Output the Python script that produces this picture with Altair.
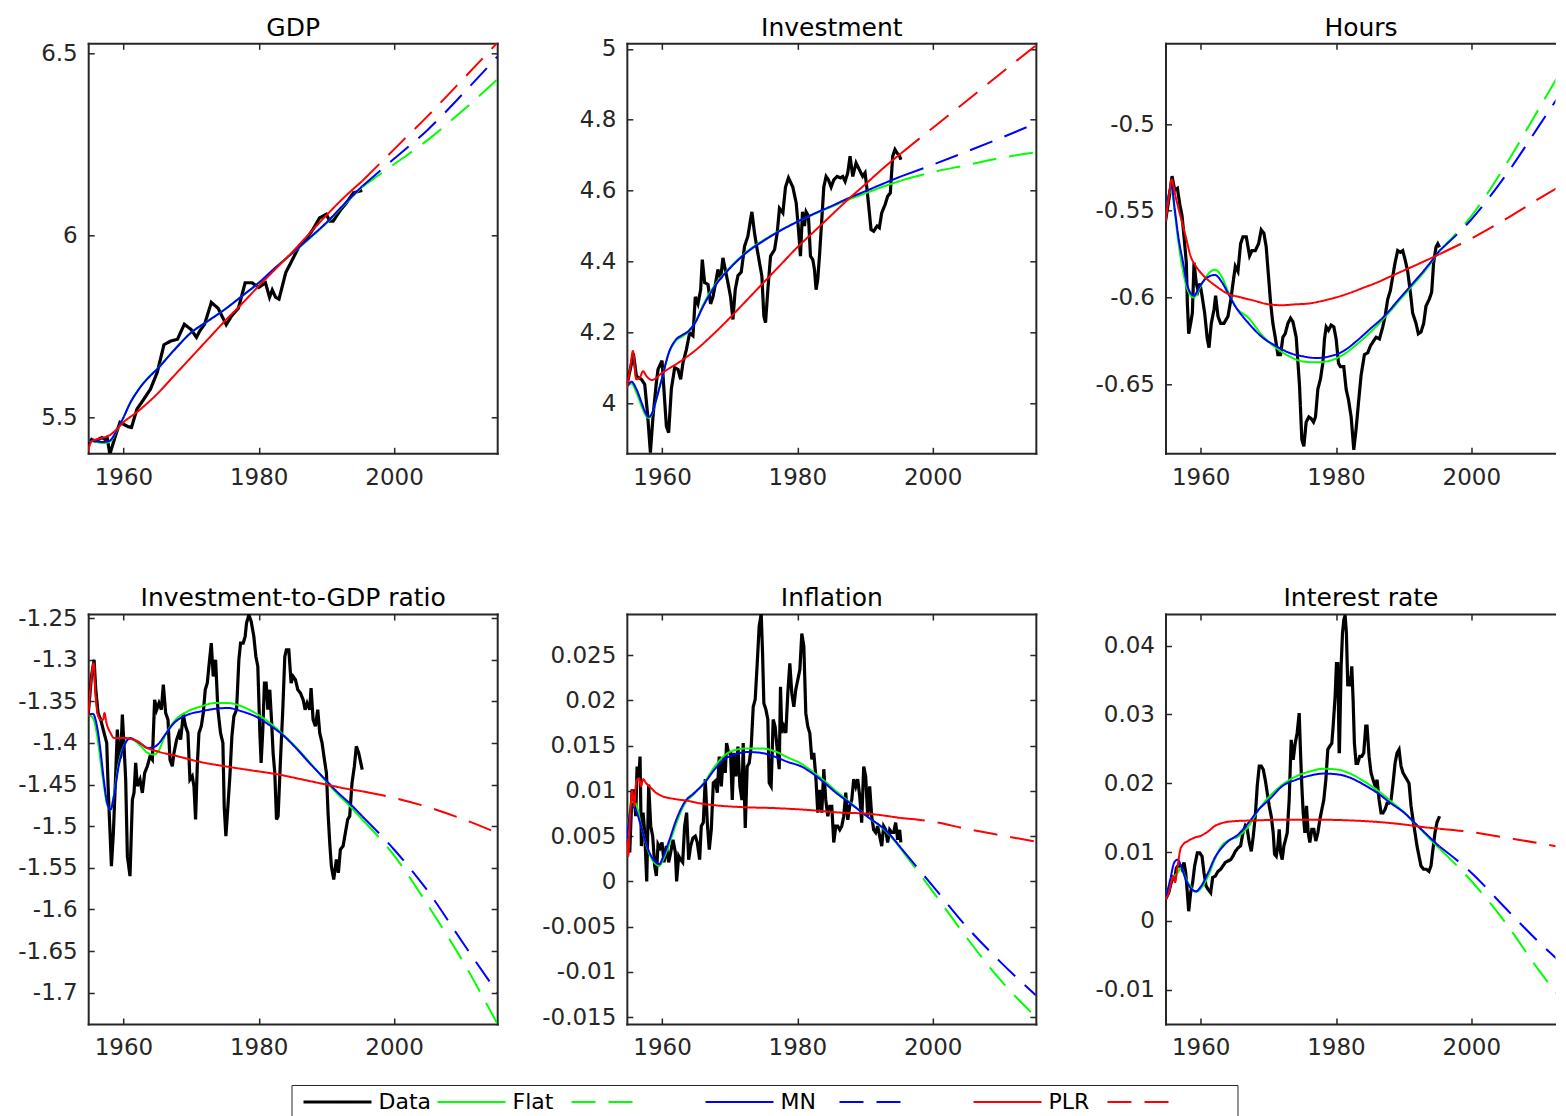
import altair as alt
import pandas as pd

FONT = "DejaVu Sans"
INK = "#262626"

SERIES = ["Data", "Flat", "Flat_f", "MN", "MN_f", "PLR", "PLR_f"]
COLORS = ["#000000", "#00ff00", "#00ff00", "#0000ff", "#0000ff", "#ff0000", "#ff0000"]
DASHES = [[1, 0], [1, 0], [24, 13], [1, 0], [24, 13], [1, 0], [24, 13]]
WIDTHS = [3.2, 2, 2, 2, 2, 2, 2]
X_DOMAIN = [1954.8, 2015.25]
X_DOMAIN_CUT = [1954.8, 2012.44]   # right column runs past the window edge
X_TICKS = [1960, 1980, 2000]
FC_YEAR = [1995.3, 2000, 2005, 2010, 2015.25]

# ---------------- GDP ----------------
gdp_year = [1954.8, 1955.3, 1955.8, 1956.3, 1956.8, 1957.3, 1957.6, 1958.0, 1958.5, 1959.0, 1959.5, 1960.0,
            1960.7, 1961.2, 1962.0, 1963.0, 1964.0, 1965.0, 1966.0, 1967.0, 1968.0, 1969.0, 1970.0, 1970.8,
            1971.3, 1972.0, 1973.0, 1974.0, 1975.2, 1976.0, 1977.0, 1978.0, 1979.0, 1980.0, 1981.0, 1981.6,
            1982.0, 1982.5, 1983.0, 1984.0, 1985.0, 1986.0, 1987.0, 1988.0, 1989.0, 1990.0, 1990.5, 1991.0,
            1992.0, 1993.0, 1994.0, 1995.3]
gdp_data = [5.427, 5.440, 5.435, 5.440, 5.445, 5.440, 5.445, 5.400, 5.430, 5.460, 5.487, 5.482,
            5.475, 5.473, 5.523, 5.550, 5.578, 5.624, 5.700, 5.710, 5.715, 5.756, 5.742, 5.720,
            5.738, 5.756, 5.816, 5.800, 5.755, 5.779, 5.800, 5.870, 5.870, 5.857, 5.870, 5.830,
            5.850, 5.830, 5.825, 5.898, 5.934, 5.971, 5.989, 6.016, 6.048, 6.058, 6.039, 6.039,
            6.067, 6.090, 6.117, 6.123]
gdp_fit_year = [1954.8, 1956, 1957, 1958, 1959, 1960, 1961, 1962, 1963, 1964, 1965, 1967.5, 1970, 1972.5,
                1975, 1977.5, 1980, 1982.5, 1985, 1987.5, 1990, 1992.5, 1995.3]
gdp_mn = [5.437, 5.435, 5.433, 5.437, 5.465, 5.500, 5.540, 5.570, 5.595, 5.615, 5.633, 5.685, 5.733, 5.765,
          5.797, 5.833, 5.870, 5.912, 5.952, 5.993, 6.035, 6.083, 6.135]
gdp_flat = [5.437, 5.433, 5.430, 5.434, 5.463, 5.499, 5.540, 5.571, 5.596, 5.616, 5.634, 5.686, 5.733, 5.765,
            5.797, 5.833, 5.869, 5.911, 5.951, 5.991, 6.033, 6.081, 6.133]
gdp_plr_year = [1954.8, 1955.3, 1956, 1957, 1958, 1959, 1960, 1962, 1965, 1967.5, 1970, 1972.5, 1975, 1977.5,
                1980, 1982.5, 1985, 1987.5, 1990, 1992.5, 1995.3]
gdp_plr = [5.409, 5.435, 5.440, 5.445, 5.452, 5.468, 5.487, 5.515, 5.565, 5.615, 5.665, 5.715, 5.765, 5.812,
           5.861, 5.908, 5.955, 6.005, 6.055, 6.102, 6.149]
gdp_mn_fc = [6.135, 6.210, 6.290, 6.385, 6.490]
gdp_flat_fc = [6.133, 6.195, 6.262, 6.340, 6.427]
gdp_plr_fc = [6.149, 6.236, 6.328, 6.425, 6.528]

# ---------------- Investment ----------------
inv_year = [1954.8, 1955.47, 1955.77, 1956.21, 1956.95, 1957.44, 1957.84, 1958.03, 1958.28, 1958.67, 1959.16,
            1959.41, 1960.0, 1960.64, 1960.98, 1961.38, 1961.87, 1962.36, 1962.75, 1963.10, 1963.59, 1964.08,
            1964.57, 1964.92, 1965.31, 1965.71, 1965.95, 1966.30, 1966.79, 1967.18, 1967.53, 1968.02, 1968.26,
            1968.66, 1969.00, 1969.35, 1969.74, 1970.13, 1970.48, 1970.82, 1971.22, 1971.71, 1972.20, 1972.69,
            1973.08, 1973.28, 1973.67, 1974.07, 1974.41, 1974.76, 1975.05, 1975.30, 1975.64, 1976.04, 1976.63,
            1977.02, 1977.36, 1977.86, 1978.25, 1978.69, 1979.33, 1979.83, 1980.17, 1980.46, 1980.76, 1981.05,
            1981.30, 1981.64, 1981.94, 1982.28, 1982.53, 1982.77, 1983.02, 1983.27, 1983.61, 1983.91, 1984.25,
            1984.60, 1984.99, 1985.38, 1985.88, 1986.37, 1986.71, 1987.06, 1987.45, 1987.79, 1988.19, 1988.68,
            1989.17, 1989.66, 1990.01, 1990.30, 1990.55, 1990.89, 1991.28, 1991.78, 1992.12, 1992.47, 1992.96,
            1993.35, 1993.74, 1994.09, 1994.43, 1994.73, 1995.07, 1995.3]
inv_data = [4.05, 4.11, 4.14, 4.076, 4.067, 4.053, 3.973, 3.926, 3.86, 3.963, 4.057,
            4.095, 4.12, 3.935, 3.916, 4.04, 4.10, 4.095, 4.067, 4.114, 4.15, 4.198,
            4.19, 4.30, 4.28, 4.32, 4.405, 4.34, 4.335, 4.28, 4.30, 4.35, 4.377,
            4.35, 4.41, 4.377, 4.34, 4.30, 4.236, 4.32, 4.36, 4.37, 4.443, 4.471,
            4.518, 4.54, 4.48, 4.433, 4.396, 4.358, 4.245, 4.227, 4.32, 4.415, 4.433,
            4.48, 4.55, 4.537, 4.61, 4.636, 4.61, 4.565, 4.49, 4.415, 4.54, 4.50,
            4.54, 4.528, 4.415, 4.405, 4.377, 4.32, 4.35, 4.415, 4.518, 4.61, 4.64,
            4.63, 4.61, 4.63, 4.64, 4.636, 4.64, 4.626, 4.65, 4.697, 4.64, 4.678,
            4.659, 4.64, 4.65, 4.603, 4.556, 4.49, 4.485, 4.50, 4.495, 4.537, 4.56,
            4.584, 4.593, 4.697, 4.716, 4.706, 4.70, 4.687]
inv_fit_year = [1954.8, 1955.5, 1956.2, 1957, 1957.5, 1958, 1958.5, 1959, 1959.5, 1960, 1961, 1962, 1963, 1964,
                1965, 1966, 1967, 1968, 1970, 1972.5, 1975, 1977.5, 1980, 1982.5, 1985, 1987.5, 1990, 1992.5, 1995.3]
inv_mn = [4.045, 4.060, 4.040, 4.000, 3.975, 3.961, 3.970, 4.000, 4.035, 4.070, 4.142, 4.178, 4.192, 4.205,
          4.230, 4.270, 4.305, 4.335, 4.380, 4.425, 4.458, 4.487, 4.512, 4.535, 4.556, 4.578, 4.598, 4.618, 4.640]
inv_flat = [4.045, 4.055, 4.030, 3.990, 3.968, 3.958, 3.968, 3.998, 4.034, 4.070, 4.140, 4.175, 4.188, 4.203,
            4.232, 4.274, 4.310, 4.338, 4.382, 4.427, 4.460, 4.488, 4.512, 4.534, 4.554, 4.574, 4.592, 4.610, 4.628]
inv_plr_year = [1954.8, 1955.3, 1955.7, 1956.2, 1956.7, 1957.2, 1957.7, 1958.5, 1960, 1962.5, 1965, 1967.5, 1970,
                1972.5, 1975, 1977.5, 1980, 1982.5, 1985, 1987.5, 1990, 1992.5, 1995.3]
inv_plr = [4.043, 4.100, 4.147, 4.067, 4.071, 4.090, 4.076, 4.065, 4.085, 4.115, 4.150, 4.193, 4.240,
           4.290, 4.340, 4.390, 4.440, 4.485, 4.530, 4.575, 4.617, 4.660, 4.705]
inv_mn_fc = [4.640, 4.673, 4.710, 4.748, 4.790]
inv_flat_fc = [4.628, 4.652, 4.672, 4.692, 4.708]
inv_plr_fc = [4.705, 4.777, 4.853, 4.930, 5.010]

# ---------------- Hours ----------------
hrs_year = [1954.8, 1955.43, 1955.77, 1956.16, 1956.56, 1956.90, 1957.25, 1957.54, 1957.88, 1958.03, 1958.23,
            1958.52, 1958.77, 1959.02, 1959.36, 1959.61, 1959.90, 1960.20, 1960.59, 1960.98, 1961.23, 1961.57,
            1961.97, 1962.21, 1962.56, 1962.95, 1963.44, 1964.03, 1964.43, 1964.77, 1965.12, 1965.51, 1965.90,
            1966.25, 1966.74, 1967.23, 1967.58, 1968.07, 1968.56, 1968.95, 1969.35, 1969.69, 1970.03, 1970.33,
            1970.67, 1971.02, 1971.41, 1971.81, 1972.15, 1972.49, 1972.89, 1973.28, 1973.63, 1974.12, 1974.61,
            1974.95, 1975.25, 1975.59, 1975.99, 1976.33, 1976.68, 1976.97, 1977.32, 1977.71, 1978.05, 1978.30,
            1978.55, 1978.89, 1979.28, 1979.68, 1980.02, 1980.37, 1980.66, 1981.15, 1981.50, 1981.84, 1982.24,
            1982.63, 1982.97, 1983.32, 1983.71, 1984.20, 1984.69, 1985.09, 1985.58, 1985.92, 1986.42, 1986.91,
            1987.25, 1987.65, 1988.04, 1988.38, 1988.73, 1989.12, 1989.51, 1989.86, 1990.20, 1990.60, 1990.99,
            1991.33, 1991.83, 1992.17, 1992.56, 1992.96, 1993.30, 1993.79, 1994.14, 1994.43, 1994.78, 1995.05,
            1995.3]
hrs_data = [-0.556, -0.540, -0.530, -0.538, -0.537, -0.546, -0.553, -0.565, -0.580, -0.603, -0.621,
            -0.615, -0.609, -0.580, -0.592, -0.596, -0.592, -0.599, -0.609, -0.624, -0.629, -0.615,
            -0.607, -0.599, -0.611, -0.615, -0.615, -0.611, -0.602, -0.592, -0.582, -0.585, -0.569,
            -0.565, -0.565, -0.576, -0.573, -0.573, -0.569, -0.561, -0.563, -0.571, -0.588, -0.603,
            -0.615, -0.623, -0.633, -0.633, -0.623, -0.621, -0.615, -0.612, -0.614, -0.623, -0.651,
            -0.682, -0.686, -0.672, -0.669, -0.670, -0.672, -0.669, -0.653, -0.647, -0.638, -0.624,
            -0.617, -0.619, -0.616, -0.617, -0.624, -0.638, -0.640, -0.640, -0.653, -0.659, -0.669,
            -0.688, -0.676, -0.661, -0.645, -0.633, -0.632, -0.628, -0.625, -0.623, -0.624, -0.617,
            -0.611, -0.601, -0.596, -0.588, -0.580, -0.573, -0.574, -0.573, -0.578, -0.585, -0.597,
            -0.609, -0.615, -0.621, -0.620, -0.615, -0.605, -0.601, -0.597, -0.580, -0.571, -0.569,
            -0.571]
hrs_fit_year = [1954.8, 1955.3, 1955.7, 1956.2, 1956.7, 1957.4, 1958.1, 1959.0, 1959.8, 1960.8, 1962.1, 1963.1,
                1964.1, 1965.1, 1967.1, 1969.1, 1971.1, 1973.1, 1975.1, 1977.1, 1979.1, 1981.1, 1983.1, 1985.1,
                1987.1, 1989.1, 1991.1, 1993.1, 1995.3]
hrs_mn = [-0.556, -0.540, -0.536, -0.550, -0.565, -0.580, -0.594, -0.599, -0.594, -0.589, -0.587, -0.591,
          -0.598, -0.605, -0.615, -0.623, -0.628, -0.632, -0.634, -0.635, -0.634, -0.631, -0.625, -0.618,
          -0.611, -0.602, -0.593, -0.584, -0.573]
hrs_flat = [-0.556, -0.541, -0.538, -0.552, -0.568, -0.585, -0.596, -0.600, -0.595, -0.588, -0.584, -0.588,
            -0.597, -0.605, -0.612, -0.622, -0.629, -0.634, -0.637, -0.6375, -0.6365, -0.633, -0.627, -0.620,
            -0.612, -0.603, -0.594, -0.585, -0.573]
hrs_plr_year = [1954.8, 1955.3, 1955.7, 1956.3, 1957.0, 1957.8, 1958.5, 1959.3, 1960.3, 1962.1, 1964.1, 1966,
                1968, 1970, 1972, 1974, 1976, 1978, 1980, 1982, 1984, 1986, 1988, 1990, 1992, 1995.3]
hrs_plr = [-0.556, -0.542, -0.532, -0.542, -0.553, -0.565, -0.576, -0.582, -0.587, -0.593, -0.598, -0.600,
           -0.602, -0.604, -0.6045, -0.604, -0.6035, -0.602, -0.600, -0.5975, -0.5945, -0.5915, -0.588, -0.5845,
           -0.581, -0.575]
hrs_mn_fc = [-0.573, -0.555, -0.530, -0.501, -0.470]
hrs_flat_fc = [-0.573, -0.553, -0.524, -0.491, -0.456]
hrs_plr_fc = [-0.575, -0.566, -0.555, -0.543, -0.531]

# ---------------- Investment-to-GDP ratio ----------------
iy_year = [1954.8, 1955.28, 1955.67, 1955.92, 1956.26, 1956.65, 1957.15, 1957.54, 1957.74, 1958.03, 1958.23,
           1958.52, 1958.87, 1959.11, 1959.36, 1959.61, 1959.85, 1960.10, 1960.34, 1960.59, 1960.98, 1961.33,
           1961.57, 1961.82, 1962.07, 1962.46, 1962.80, 1963.15, 1963.54, 1963.94, 1964.28, 1964.62, 1964.92,
           1965.26, 1965.61, 1965.90, 1966.25, 1966.59, 1966.89, 1967.23, 1967.48, 1967.87, 1968.21, 1968.46,
           1968.85, 1969.20, 1969.54, 1969.84, 1970.18, 1970.43, 1970.67, 1970.92, 1971.17, 1971.51, 1971.81,
           1972.10, 1972.40, 1972.69, 1972.99, 1973.28, 1973.63, 1973.97, 1974.36, 1974.71, 1974.90, 1975.15,
           1975.45, 1975.74, 1976.04, 1976.33, 1976.73, 1977.07, 1977.32, 1977.71, 1978.00, 1978.20, 1978.55,
           1978.89, 1979.28, 1979.58, 1979.87, 1980.17, 1980.36, 1980.61, 1980.85, 1981.10, 1981.35, 1981.64,
           1981.89, 1982.13, 1982.38, 1982.63, 1982.87, 1983.22, 1983.56, 1983.86, 1984.10, 1984.45, 1984.79,
           1985.09, 1985.43, 1985.78, 1986.17, 1986.57, 1986.86, 1987.16, 1987.55, 1987.74, 1988.04, 1988.38,
           1988.73, 1989.02, 1989.37, 1989.71, 1990.01, 1990.25, 1990.50, 1990.74, 1991.09, 1991.48, 1991.78,
           1992.07, 1992.47, 1992.81, 1993.15, 1993.45, 1993.79, 1994.14, 1994.43, 1994.78, 1995.3]
iy_data = [-1.366, -1.320, -1.300, -1.336, -1.364, -1.372, -1.388, -1.400, -1.452, -1.508, -1.548,
           -1.508, -1.436, -1.384, -1.420, -1.416, -1.366, -1.404, -1.444, -1.536, -1.560, -1.468,
           -1.460, -1.424, -1.452, -1.444, -1.460, -1.436, -1.428, -1.416, -1.420, -1.348, -1.360,
           -1.352, -1.360, -1.330, -1.364, -1.372, -1.420, -1.428, -1.412, -1.396, -1.388, -1.396,
           -1.366, -1.380, -1.388, -1.444, -1.440, -1.452, -1.492, -1.428, -1.388, -1.380, -1.364,
           -1.336, -1.328, -1.304, -1.280, -1.320, -1.300, -1.360, -1.388, -1.400, -1.476, -1.512,
           -1.476, -1.440, -1.392, -1.368, -1.360, -1.300, -1.280, -1.280, -1.272, -1.256, -1.246,
           -1.254, -1.272, -1.296, -1.308, -1.388, -1.424, -1.384, -1.328, -1.328, -1.360, -1.336,
           -1.372, -1.412, -1.436, -1.492, -1.488, -1.420, -1.360, -1.296, -1.288, -1.288, -1.328,
           -1.320, -1.324, -1.336, -1.340, -1.348, -1.360, -1.352, -1.360, -1.334, -1.372, -1.380,
           -1.360, -1.388, -1.400, -1.420, -1.436, -1.484, -1.520, -1.548, -1.564, -1.540, -1.556,
           -1.528, -1.524, -1.508, -1.492, -1.488, -1.448, -1.428, -1.404, -1.412, -1.432]
iy_fit_year = [1954.8, 1955.5, 1956.1, 1956.6, 1957.1, 1957.6, 1958.1, 1958.6, 1959.3, 1960.1, 1961.0, 1961.8,
               1962.6, 1963.6, 1964.5, 1965.3, 1966.0, 1967.5, 1969.5, 1971.5, 1973.5, 1975.5, 1977.5, 1979.5,
               1981.5, 1983.5, 1985.5, 1987.5, 1989.5, 1991.5, 1993.5, 1995.3]
iy_mn = [-1.366, -1.365, -1.380, -1.408, -1.444, -1.472, -1.480, -1.464, -1.428, -1.404, -1.394, -1.397,
         -1.401, -1.406, -1.405, -1.400, -1.392, -1.376, -1.366, -1.362, -1.359, -1.358, -1.362, -1.368,
         -1.378, -1.390, -1.406, -1.424, -1.441, -1.458, -1.473, -1.488]
iy_flat = [-1.366, -1.370, -1.390, -1.420, -1.450, -1.474, -1.480, -1.462, -1.425, -1.403, -1.395, -1.398,
           -1.404, -1.412, -1.414, -1.408, -1.394, -1.374, -1.362, -1.356, -1.352, -1.352, -1.356, -1.364,
           -1.375, -1.389, -1.405, -1.423, -1.442, -1.460, -1.476, -1.492]
iy_plr_year = [1954.8, 1955.2, 1955.6, 1955.9, 1956.3, 1956.7, 1957.0, 1957.2, 1957.5, 1958.1, 1958.6, 1960,
               1961.1, 1962.1, 1963.5, 1965, 1968, 1971.5, 1975, 1979, 1983, 1986.5, 1990, 1993, 1995.3]
iy_plr = [-1.368, -1.328, -1.304, -1.344, -1.368, -1.372, -1.372, -1.364, -1.376, -1.388, -1.394, -1.394,
          -1.395, -1.398, -1.406, -1.410, -1.416, -1.423, -1.428, -1.433, -1.438, -1.444, -1.450, -1.455, -1.458]
iy_mn_fc = [-1.488, -1.528, -1.578, -1.638, -1.700]
iy_flat_fc = [-1.492, -1.535, -1.595, -1.660, -1.737]
iy_plr_fc = [-1.458, -1.466, -1.477, -1.491, -1.508]

# ---------------- Inflation ----------------
inf_year = [1954.8, 1955.23, 1955.57, 1955.87, 1956.11, 1956.31, 1956.56, 1956.75, 1956.95, 1957.20, 1957.44,
            1957.74, 1958.03, 1958.33, 1958.62, 1958.92, 1959.16, 1959.41, 1959.70, 1960.00, 1960.30, 1960.64,
            1960.98, 1961.28, 1961.62, 1961.97, 1962.16, 1962.46, 1962.75, 1963.05, 1963.34, 1963.64, 1963.94,
            1964.23, 1964.57, 1964.92, 1965.21, 1965.56, 1965.80, 1966.10, 1966.39, 1966.69, 1966.98, 1967.28,
            1967.58, 1967.87, 1968.17, 1968.46, 1968.76, 1969.05, 1969.35, 1969.54, 1969.84, 1970.13, 1970.38,
            1970.63, 1970.92, 1971.22, 1971.51, 1971.81, 1972.00, 1972.30, 1972.59, 1972.89, 1973.18, 1973.48,
            1973.77, 1974.07, 1974.36, 1974.66, 1974.86, 1975.05, 1975.35, 1975.64, 1975.84, 1976.13, 1976.43,
            1976.72, 1977.02, 1977.32, 1977.51, 1977.71, 1978.00, 1978.30, 1978.59, 1978.89, 1979.18, 1979.48,
            1979.77, 1980.07, 1980.37, 1980.66, 1980.96, 1981.25, 1981.55, 1981.84, 1982.14, 1982.43, 1982.73,
            1983.02, 1983.32, 1983.61, 1983.91, 1984.20, 1984.50, 1984.79, 1985.09, 1985.38, 1985.68, 1985.97,
            1986.27, 1986.56, 1986.86, 1987.15, 1987.45, 1987.74, 1988.04, 1988.33, 1988.63, 1988.92, 1989.22,
            1989.51, 1989.81, 1990.10, 1990.40, 1990.69, 1990.99, 1991.28, 1991.58, 1991.87, 1992.17, 1992.47,
            1992.76, 1993.06, 1993.35, 1993.65, 1993.94, 1994.24, 1994.53, 1994.83, 1995.12, 1995.3]
inf_data = [0.0046, 0.0032, 0.0100, 0.0100, 0.0072, 0.0127, 0.0113, 0.0138, 0.0039, 0.0076, 0.0054,
            0.0000, 0.0107, 0.0061, 0.0050, 0.0017, 0.0006, 0.0041, 0.0037, 0.0043, 0.0021, 0.0039,
            0.0021, 0.0032, 0.0046, 0.0032, 0.0000, 0.0028, 0.0024, 0.0021, 0.0061, 0.0076, 0.0024,
            0.0039, 0.0048, 0.0050, 0.0043, 0.0024, 0.0061, 0.0065, 0.0113, 0.0065, 0.0035, 0.0057,
            0.0109, 0.0111, 0.0098, 0.0138, 0.0105, 0.0138, 0.0120, 0.0153, 0.0142, 0.0142, 0.0090,
            0.0142, 0.0116, 0.0149, 0.0105, 0.0090, 0.0153, 0.0059, 0.0127, 0.0131, 0.0149, 0.0193,
            0.0201, 0.0241, 0.0282, 0.0296, 0.0252, 0.0197, 0.0190, 0.0179, 0.0109, 0.0105, 0.0179,
            0.0171, 0.0146, 0.0124, 0.0215, 0.0164, 0.0171, 0.0164, 0.0208, 0.0241, 0.0208, 0.0193,
            0.0212, 0.0223, 0.0234, 0.0274, 0.0260, 0.0186, 0.0171, 0.0164, 0.0135, 0.0142, 0.0116,
            0.0076, 0.0101, 0.0076, 0.0124, 0.0090, 0.0072, 0.0083, 0.0083, 0.0043, 0.0061, 0.0061,
            0.0057, 0.0061, 0.0072, 0.0098, 0.0068, 0.0083, 0.0090, 0.0113, 0.0105, 0.0113, 0.0094,
            0.0065, 0.0127, 0.0116, 0.0072, 0.0105, 0.0072, 0.0057, 0.0054, 0.0061, 0.0050, 0.0039,
            0.0061, 0.0057, 0.0043, 0.0057, 0.0054, 0.0054, 0.0065, 0.0046, 0.0057, 0.0043]
inf_fit_year = [1954.8, 1955.5, 1956.1, 1956.9, 1957.6, 1958.4, 1959.1, 1959.6, 1960.1, 1961.1, 1962.1, 1963.3,
                1964.8, 1966.3, 1967.8, 1969.2, 1970.7, 1972.7, 1974.7, 1976.6, 1978.6, 1980.6, 1982.3, 1984.0,
                1985.7, 1987.5, 1990.1, 1993.4, 1995.3]
inf_mn = [0.0046, 0.0083, 0.0079, 0.0061, 0.0043, 0.0028, 0.0021, 0.0019, 0.0026, 0.0046, 0.0068, 0.0087,
          0.0098, 0.0109, 0.0124, 0.0135, 0.0140, 0.0143, 0.0142, 0.0138, 0.0132, 0.0127, 0.0119, 0.0109,
          0.0098, 0.0088, 0.0073, 0.0054, 0.0037]
inf_flat = [0.0046, 0.0088, 0.0086, 0.0062, 0.0042, 0.0026, 0.0019, 0.0017, 0.0023, 0.0042, 0.0064, 0.0085,
            0.0097, 0.0110, 0.0127, 0.0139, 0.0145, 0.0147, 0.0147, 0.0144, 0.0137, 0.0130, 0.0121, 0.0111,
            0.0100, 0.0089, 0.0073, 0.0053, 0.0036]
inf_plr_year = [1954.8, 1955.0, 1955.3, 1955.6, 1955.9, 1956.2, 1956.6, 1956.9, 1957.2, 1957.6, 1958.4, 1959.1,
                1960.1, 1961.9, 1963.8, 1965.8, 1968, 1972, 1976.6, 1981.5, 1986.4, 1990, 1995.3]
inf_plr = [0.0046, 0.0028, 0.0076, 0.0100, 0.0083, 0.0111, 0.0114, 0.0105, 0.0113, 0.0109, 0.0103, 0.0098,
           0.0094, 0.0091, 0.0089, 0.0086, 0.0084, 0.0082, 0.0081, 0.0079, 0.0076, 0.0075, 0.0070]
inf_mn_fc = [0.0037, -0.0005, -0.0050, -0.0089, -0.0126]
inf_flat_fc = [0.0036, -0.0011, -0.0062, -0.0109, -0.0150]
inf_plr_fc = [0.0070, 0.0066, 0.0058, 0.0051, 0.0044]

# ---------------- Interest rate ----------------
rt_year = [1954.8, 1955.28, 1955.57, 1955.87, 1956.16, 1956.41, 1956.66, 1957.00, 1957.25, 1957.54, 1957.79,
           1958.03, 1958.23, 1958.52, 1958.82, 1959.11, 1959.51, 1959.85, 1960.20, 1960.49, 1960.79, 1961.08,
           1961.48, 1961.77, 1962.16, 1962.56, 1962.95, 1963.30, 1963.64, 1964.03, 1964.43, 1964.77, 1965.12,
           1965.51, 1965.90, 1966.25, 1966.59, 1966.89, 1967.18, 1967.48, 1967.77, 1968.07, 1968.36, 1968.66,
           1968.95, 1969.25, 1969.54, 1969.84, 1970.13, 1970.43, 1970.72, 1970.92, 1971.17, 1971.41, 1971.61,
           1971.81, 1972.05, 1972.30, 1972.54, 1972.79, 1973.08, 1973.38, 1973.67, 1973.97, 1974.26, 1974.56,
           1974.76, 1974.95, 1975.15, 1975.40, 1975.64, 1975.89, 1976.13, 1976.43, 1976.72, 1977.02, 1977.32,
           1977.61, 1977.91, 1978.20, 1978.50, 1978.79, 1979.09, 1979.38, 1979.58, 1979.87, 1980.07, 1980.27,
           1980.46, 1980.51, 1980.76, 1980.96, 1981.15, 1981.35, 1981.54, 1981.74, 1981.94, 1982.13, 1982.33,
           1982.53, 1982.72, 1982.97, 1983.21, 1983.51, 1983.81, 1984.10, 1984.40, 1984.59, 1984.89, 1985.18,
           1985.48, 1985.78, 1986.07, 1986.37, 1986.66, 1986.96, 1987.25, 1987.55, 1987.84, 1988.14, 1988.43,
           1988.73, 1989.02, 1989.32, 1989.61, 1989.91, 1990.20, 1990.50, 1990.79, 1991.09, 1991.38, 1991.68,
           1991.97, 1992.27, 1992.56, 1992.96, 1993.35, 1993.74, 1994.04, 1994.33, 1994.63, 1994.92, 1995.22,
           1995.3]
rt_data = [0.0031, 0.0041, 0.0053, 0.0063, 0.0060, 0.0077, 0.0080, 0.0080, 0.0075, 0.0085, 0.0070,
           0.0041, 0.0014, 0.0041, 0.0056, 0.0080, 0.0099, 0.0099, 0.0094, 0.0070, 0.0051, 0.0046,
           0.0041, 0.0063, 0.0065, 0.0072, 0.0075, 0.0080, 0.0085, 0.0087, 0.0089, 0.0094, 0.0101,
           0.0106, 0.0109, 0.0128, 0.0138, 0.0133, 0.0114, 0.0101, 0.0123, 0.0152, 0.0196, 0.0225,
           0.0225, 0.0220, 0.0205, 0.0186, 0.0167, 0.0152, 0.0128, 0.0097, 0.0094, 0.0109, 0.0133,
           0.0099, 0.0089, 0.0109, 0.0118, 0.0128, 0.0176, 0.0263, 0.0234, 0.0258, 0.0273, 0.0302,
           0.0244, 0.0196, 0.0157, 0.0128, 0.0167, 0.0128, 0.0114, 0.0133, 0.0133, 0.0116, 0.0128,
           0.0147, 0.0162, 0.0176, 0.0205, 0.0249, 0.0254, 0.0258, 0.0283, 0.0326, 0.0374, 0.0374,
           0.0246, 0.0246, 0.0370, 0.0418, 0.0437, 0.0444, 0.0418, 0.0341, 0.0355, 0.0341, 0.0370,
           0.0321, 0.0258, 0.0229, 0.0229, 0.0239, 0.0239, 0.0244, 0.0283, 0.0283, 0.0239, 0.0215,
           0.0205, 0.0196, 0.0205, 0.0176, 0.0157, 0.0157, 0.0162, 0.0171, 0.0171, 0.0176, 0.0200,
           0.0229, 0.0244, 0.0249, 0.0225, 0.0215, 0.0210, 0.0205, 0.0200, 0.0167, 0.0147, 0.0128,
           0.0109, 0.0094, 0.0080, 0.0075, 0.0075, 0.0072, 0.0080, 0.0104, 0.0128, 0.0143, 0.0150,
           0.0152]
rt_fit_year = [1954.8, 1955.5, 1956.1, 1956.6, 1957.1, 1957.8, 1958.5, 1959.3, 1960.1, 1961.1, 1962.1, 1963.1,
               1964.1, 1965.6, 1967.1, 1968.6, 1970.1, 1972.1, 1974.1, 1976.1, 1978.1, 1980.1, 1982.1, 1984.1,
               1986.1, 1988.1, 1990.1, 1992.1, 1994.1, 1995.3]
rt_mn = [0.0031, 0.0060, 0.0085, 0.0089, 0.0080, 0.0060, 0.0048, 0.0043, 0.0051, 0.0070, 0.0092, 0.0106,
         0.0116, 0.0126, 0.0143, 0.0162, 0.0176, 0.0196, 0.0205, 0.0211, 0.0214, 0.0213, 0.0208, 0.0198,
         0.0186, 0.0171, 0.0157, 0.0138, 0.0119, 0.0108]
rt_flat = [0.0031, 0.0056, 0.0065, 0.0070, 0.0077, 0.0062, 0.0050, 0.0042, 0.0048, 0.0065, 0.0090, 0.0109,
           0.0117, 0.0123, 0.0138, 0.0162, 0.0180, 0.0198, 0.0210, 0.0217, 0.0221, 0.0220, 0.0214, 0.0203,
           0.0190, 0.0174, 0.0157, 0.0137, 0.0117, 0.0105]
rt_plr_year = [1954.8, 1955.3, 1955.7, 1956.0, 1956.2, 1956.6, 1957.0, 1957.4, 1958.1, 1959.1, 1960.1, 1961.1,
               1962.1, 1963.1, 1965.1, 1968.1, 1972.1, 1977.1, 1982.1, 1987.1, 1990.1, 1994.1, 1995.3]
rt_plr = [0.0031, 0.0041, 0.0058, 0.0065, 0.0056, 0.0080, 0.0104, 0.0111, 0.0116, 0.0121, 0.0124, 0.0130,
          0.0138, 0.0142, 0.0145, 0.0146, 0.0147, 0.0147, 0.0146, 0.0143, 0.0140, 0.0135, 0.0134]
rt_mn_fc = [0.0108, 0.0070, 0.0019, -0.0031, -0.0078]
rt_flat_fc = [0.0105, 0.0058, -0.0002, -0.0072, -0.0138]
rt_plr_fc = [0.0134, 0.0129, 0.0121, 0.0113, 0.0103]

# (title, data, fits, forecasts, y-domain, y-ticks, last column?)
PANELS = [
    ("GDP", gdp_year, gdp_data, gdp_fit_year, gdp_flat, gdp_mn, gdp_plr_year, gdp_plr,
     gdp_flat_fc, gdp_mn_fc, gdp_plr_fc, [5.402, 6.527], [5.5, 6, 6.5], False),
    ("Investment", inv_year, inv_data, inv_fit_year, inv_flat, inv_mn, inv_plr_year, inv_plr,
     inv_flat_fc, inv_mn_fc, inv_plr_fc, [3.858, 5.016], [4, 4.2, 4.4, 4.6, 4.8, 5], False),
    ("Hours", hrs_year, hrs_data, hrs_fit_year, hrs_flat, hrs_mn, hrs_plr_year, hrs_plr,
     hrs_flat_fc, hrs_mn_fc, hrs_plr_fc, [-0.690, -0.4533], [-0.65, -0.6, -0.55, -0.5], True),
    ("Investment-to-GDP ratio", iy_year, iy_data, iy_fit_year, iy_flat, iy_mn, iy_plr_year, iy_plr,
     iy_flat_fc, iy_mn_fc, iy_plr_fc, [-1.7377, -1.245],
     [-1.7, -1.65, -1.6, -1.55, -1.5, -1.45, -1.4, -1.35, -1.3, -1.25], False),
    ("Inflation", inf_year, inf_data, inf_fit_year, inf_flat, inf_mn, inf_plr_year, inf_plr,
     inf_flat_fc, inf_mn_fc, inf_plr_fc, [-0.01577, 0.02956],
     [-0.015, -0.01, -0.005, 0, 0.005, 0.01, 0.015, 0.02, 0.025], False),
    ("Interest rate", rt_year, rt_data, rt_fit_year, rt_flat, rt_mn, rt_plr_year, rt_plr,
     rt_flat_fc, rt_mn_fc, rt_plr_fc, [-0.01498, 0.04459], [-0.01, 0, 0.01, 0.02, 0.03, 0.04], True),
]

# blank (non-whitespace) glyphs keep the empty label area after the last legend entry, as in the original box
PAD_LABEL = "\u2800" * 3
LEGEND = alt.Legend(
    orient="none", legendX=203.3, legendY=1041.7, direction="horizontal", columns=7, title=None,
    symbolType="stroke", symbolSize=4624, clipHeight=22, symbolOffset=4,
    labelFont=FONT, labelFontSize=22, labelColor="black", labelOffset=5,
    columnPadding=0, padding=6, strokeColor=INK, gridAlign="all", symbolLimit=0,
    labelExpr="datum.label == 'PLR_f' ? '" + PAD_LABEL + "' : (indexof(datum.label, '_f') >= 0 ? '' : datum.label)",
)
color_scale = alt.Scale(domain=SERIES, range=COLORS)
dash_scale = alt.Scale(domain=SERIES, range=DASHES)
width_scale = alt.Scale(type="ordinal", domain=SERIES, range=WIDTHS)

INWARD = {"expr": "-6"}
FRAME = dict(domain=True, domainColor=INK, domainWidth=2, domainCap="square", ticks=True,
             tickSize=INWARD, tickColor=INK, tickWidth=1.5, grid=False)


def x_axis(top, title=None):
    if top:
        return alt.Axis(orient="top", values=X_TICKS, labels=False, title=title, titleFont=FONT,
                        titleFontSize=25, titleFontWeight="normal", titleColor="black", titlePadding=8,
                        titleBaseline="alphabetic", minExtent=0, maxExtent=0, **FRAME)
    return alt.Axis(orient="bottom", values=X_TICKS, labelExpr="'' + datum.value", labelPadding=19,
                    title=None, labelFlush=False, labelOverlap=False, **FRAME)


def y_axis(right, ticks):
    if right:
        return alt.Axis(orient="right", values=ticks, labels=False, title=None, minExtent=0, maxExtent=0,
                        **FRAME)
    return alt.Axis(orient="left", values=ticks, labelExpr="'' + datum.value", labelPadding=17, title=None,
                    labelOverlap=False, labelFlush=False, **FRAME)


def make_panel(spec):
    (title, d_t, d_v, f_t, flat_v, mn_v, p_t, p_v, flat_fc, mn_fc, plr_fc, ydom, yticks, last) = spec
    groups = [
        ("Data", d_t, d_v), ("Flat", f_t, flat_v), ("MN", f_t, mn_v), ("PLR", p_t, p_v),
        ("Flat_f", FC_YEAR, flat_fc), ("MN_f", FC_YEAR, mn_fc), ("PLR_f", FC_YEAR, plr_fc),
    ]
    rows = []
    for name, ts, vs in groups:
        assert len(ts) == len(vs), (title, name, len(ts), len(vs))
        for t, v in zip(ts, vs):
            rows.append({"year": t, "value": v, "series": name})
    df = pd.DataFrame(rows)
    xs = alt.Scale(domain=X_DOMAIN_CUT if last else X_DOMAIN, nice=False, zero=False)
    ys = alt.Scale(domain=ydom, nice=False, zero=False)
    layers = []
    for i, (name, _, _) in enumerate(groups):
        if i == 0:
            xa, ya = x_axis(False), y_axis(False, yticks)
        elif i == 1:
            xa = x_axis(True, title)
            ya = None if last else y_axis(True, yticks)
        else:
            xa = ya = None
        layer = alt.Chart(df).transform_filter(alt.datum.series == name).mark_line(
            clip=True, interpolate="linear" if name == "Data" else "monotone"
        ).encode(
            x=alt.X("year:Q", scale=xs, axis=xa),
            y=alt.Y("value:Q", scale=ys, axis=ya),
            color=alt.Color("series:N", scale=color_scale, legend=LEGEND),
            strokeDash=alt.StrokeDash("series:N", scale=dash_scale, legend=LEGEND),
            strokeWidth=alt.StrokeWidth("series:N", scale=width_scale, legend=LEGEND),
        )
        layers.append(layer)
    return alt.layer(*layers).resolve_axis(x="independent", y="independent").properties(
        width=390 if last else 409, height=410,
    )


panels = [make_panel(p) for p in PANELS]

chart = alt.concat(*panels, columns=3, spacing={"row": 160.7, "column": 129.65}, bounds="flush").properties(
    padding={"left": 9.2, "top": 7.3, "right": 0, "bottom": 0}
).configure_view(
    stroke="transparent", strokeWidth=0
).configure_axis(
    labelFont=FONT, labelFontSize=23, labelColor=INK
)

chart.save("out.html", embed_options={"renderer": "svg", "actions": False})
